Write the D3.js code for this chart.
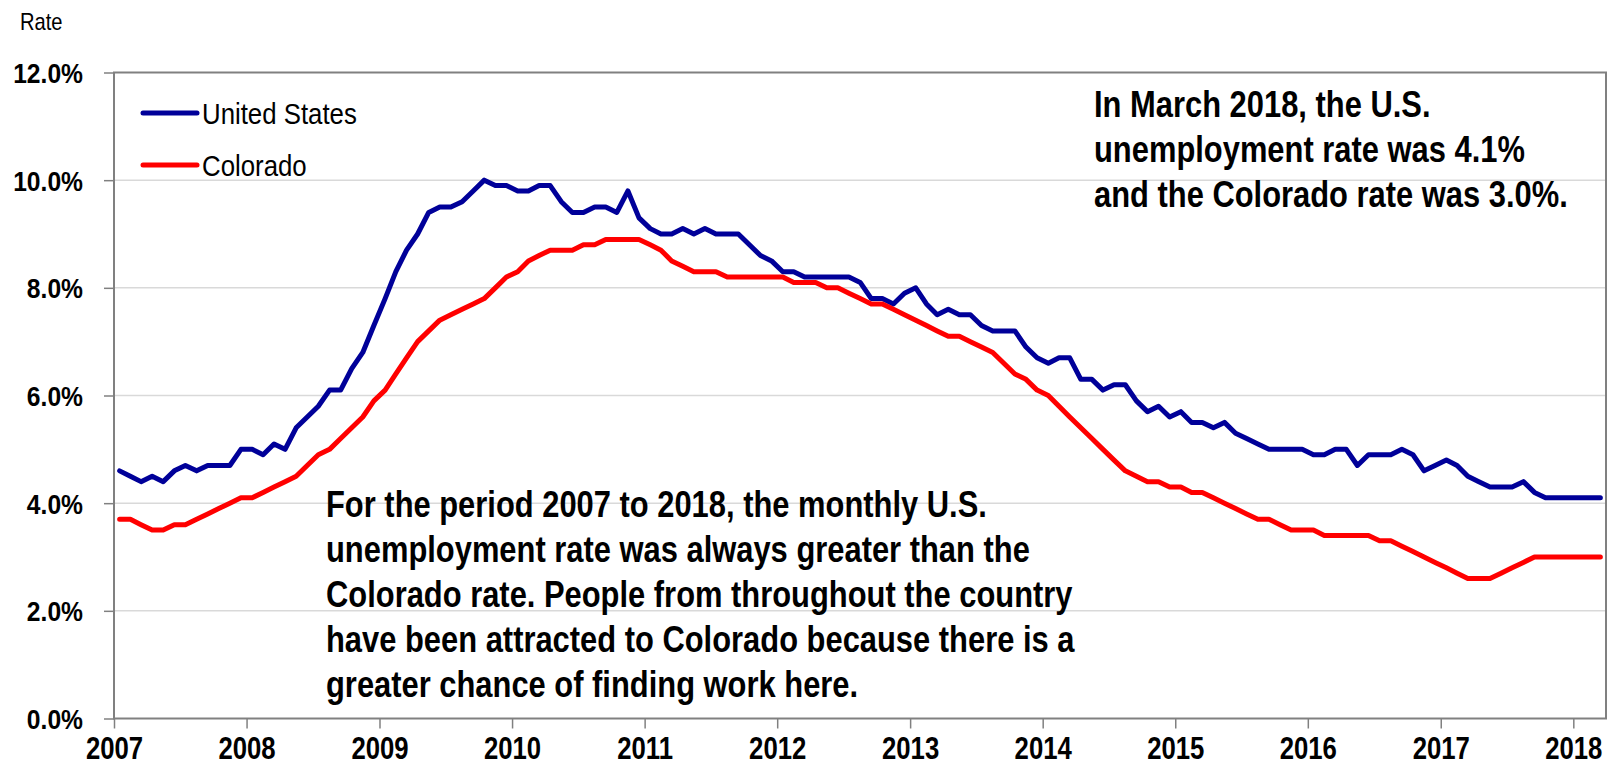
<!DOCTYPE html>
<html>
<head>
<meta charset="utf-8">
<script src="https://cdn.jsdelivr.net/npm/d3@7/dist/d3.min.js"></script>
<style>
  html, body { margin: 0; padding: 0; background: #fff; }
  svg { display: block; }
  text { font-family: "Liberation Sans", Arial, sans-serif; }
</style>
</head>
<body>
<div id="chart"></div>
<script>
// Monthly unemployment rate, Jan 2007 .. Mar 2018 (percent).
const years = [2007, 2008, 2009, 2010, 2011, 2012, 2013, 2014, 2015, 2016, 2017, 2018];

const usRate = [
  4.6, 4.5, 4.4, 4.5, 4.4, 4.6, 4.7, 4.6, 4.7, 4.7, 4.7, 5.0,
  5.0, 4.9, 5.1, 5.0, 5.4, 5.6, 5.8, 6.1, 6.1, 6.5, 6.8, 7.3,
  7.8, 8.3, 8.7, 9.0, 9.4, 9.5, 9.5, 9.6, 9.8, 10.0, 9.9, 9.9,
  9.8, 9.8, 9.9, 9.9, 9.6, 9.4, 9.4, 9.5, 9.5, 9.4, 9.8, 9.3,
  9.1, 9.0, 9.0, 9.1, 9.0, 9.1, 9.0, 9.0, 9.0, 8.8, 8.6, 8.5,
  8.3, 8.3, 8.2, 8.2, 8.2, 8.2, 8.2, 8.1, 7.8, 7.8, 7.7, 7.9,
  8.0, 7.7, 7.5, 7.6, 7.5, 7.5, 7.3, 7.2, 7.2, 7.2, 6.9, 6.7,
  6.6, 6.7, 6.7, 6.3, 6.3, 6.1, 6.2, 6.2, 5.9, 5.7, 5.8, 5.6,
  5.7, 5.5, 5.5, 5.4, 5.5, 5.3, 5.2, 5.1, 5.0, 5.0, 5.0, 5.0,
  4.9, 4.9, 5.0, 5.0, 4.7, 4.9, 4.9, 4.9, 5.0, 4.9, 4.6, 4.7,
  4.8, 4.7, 4.5, 4.4, 4.3, 4.3, 4.3, 4.4, 4.2, 4.1, 4.1, 4.1,
  4.1, 4.1, 4.1,
];

const coRate = [
  3.7, 3.7, 3.6, 3.5, 3.5, 3.6, 3.6, 3.7, 3.8, 3.9, 4.0, 4.1,
  4.1, 4.2, 4.3, 4.4, 4.5, 4.7, 4.9, 5.0, 5.2, 5.4, 5.6, 5.9,
  6.1, 6.4, 6.7, 7.0, 7.2, 7.4, 7.5, 7.6, 7.7, 7.8, 8.0, 8.2,
  8.3, 8.5, 8.6, 8.7, 8.7, 8.7, 8.8, 8.8, 8.9, 8.9, 8.9, 8.9,
  8.8, 8.7, 8.5, 8.4, 8.3, 8.3, 8.3, 8.2, 8.2, 8.2, 8.2, 8.2,
  8.2, 8.1, 8.1, 8.1, 8.0, 8.0, 7.9, 7.8, 7.7, 7.7, 7.6, 7.5,
  7.4, 7.3, 7.2, 7.1, 7.1, 7.0, 6.9, 6.8, 6.6, 6.4, 6.3, 6.1,
  6.0, 5.8, 5.6, 5.4, 5.2, 5.0, 4.8, 4.6, 4.5, 4.4, 4.4, 4.3,
  4.3, 4.2, 4.2, 4.1, 4.0, 3.9, 3.8, 3.7, 3.7, 3.6, 3.5, 3.5,
  3.5, 3.4, 3.4, 3.4, 3.4, 3.4, 3.3, 3.3, 3.2, 3.1, 3.0, 2.9,
  2.8, 2.7, 2.6, 2.6, 2.6, 2.7, 2.8, 2.9, 3.0, 3.0, 3.0, 3.0,
  3.0, 3.0, 3.0,
];

const yTicks = [0, 2, 4, 6, 8, 10, 12];

const series = [
  { name: 'United States', values: usRate, color: '#000099' },
  { name: 'Colorado', values: coRate, color: '#ff0000' },
];

const noteTop = [
  'In March 2018, the U.S.',
  'unemployment rate was 4.1%',
  'and the Colorado rate was 3.0%.',
];

const noteBottom = [
  'For the period 2007 to 2018, the monthly U.S.',
  'unemployment rate was always greater than the',
  'Colorado rate. People from throughout the country',
  'have been attracted to Colorado because there is a',
  'greater chance of finding work here.',
];

const W = 1618, H = 766;
const plot = { left: 114, right: 1606, top: 72.5, bottom: 718.5 };
const FRAME = '#808080';
const GRID = '#d9d9d9';

// The source uses a condensed face that isn't installed here, so
// text is squeezed horizontally around its anchor point instead.
const squeeze = (sel, sx, x0, y0) =>
  sel.attr('x', 0).attr('y', 0)
    .attr('transform', `translate(${x0},${y0}) scale(${sx},1)`);

const svg = d3.select('#chart').append('svg')
  .attr('width', W).attr('height', H);

// Scales: time axis runs to the start of April 2018 so the last
// (March) point sits half a month inside the right border.
const x = d3.scaleTime()
  .domain([new Date(2007, 0, 1), new Date(2018, 3, 1)])
  .range([plot.left, plot.right]);

const y = d3.scaleLinear()
  .domain([0, 12])
  .range([plot.bottom, plot.top]);

// Mid-month position for month index i.
const monthX = (i) => (x(new Date(2007, i, 1)) + x(new Date(2007, i + 1, 1))) / 2;

// Gridlines (skip top and bottom, the frame covers them).
svg.append('g').attr('class', 'grid')
  .selectAll('line')
  .data(yTicks.filter((t) => t > 0 && t < 12))
  .enter().append('line')
  .attr('x1', plot.left).attr('x2', plot.right)
  .attr('y1', (d) => y(d)).attr('y2', (d) => y(d))
  .attr('stroke', GRID).attr('stroke-width', 1.5);

// Y axis: outward ticks, bold percent labels.
const yAxis = d3.axisLeft(y)
  .tickValues(yTicks)
  .tickSize(10)
  .tickPadding(20)
  .tickFormat((d) => d3.format('.1f')(d) + '%');

const yG = svg.append('g')
  .attr('transform', `translate(${plot.left},0)`)
  .call(yAxis);
yG.select('.domain').remove();
yG.selectAll('.tick line').attr('stroke', FRAME).attr('stroke-width', 1.5);
squeeze(yG.selectAll('.tick text'), 0.88, -31, 0)
  .attr('font-size', 28)
  .attr('font-weight', 'bold')
  .attr('fill', '#000')
  .attr('dy', '0.36em');

// X axis: yearly ticks below the baseline.
const xAxis = d3.axisBottom(x)
  .tickValues(years.map((yr) => new Date(yr, 0, 1)))
  .tickSize(10)
  .tickPadding(8)
  .tickFormat(d3.timeFormat('%Y'));

const xG = svg.append('g')
  .attr('transform', `translate(0,${plot.bottom})`)
  .call(xAxis);
xG.select('.domain').remove();
xG.selectAll('.tick line').attr('stroke', FRAME).attr('stroke-width', 1.5);
squeeze(xG.selectAll('.tick text'), 0.83, 0, 18)
  .attr('font-size', 31)
  .attr('font-weight', 'bold')
  .attr('fill', '#000')
  .attr('dy', '0.71em');

// Plot frame.
svg.append('rect')
  .attr('x', plot.left).attr('y', plot.top)
  .attr('width', plot.right - plot.left)
  .attr('height', plot.bottom - plot.top)
  .attr('fill', 'none')
  .attr('stroke', FRAME).attr('stroke-width', 2);

// Series lines.
const line = d3.line()
  .x((d, i) => monthX(i))
  .y((d) => y(d));

svg.append('g').attr('class', 'series')
  .selectAll('path')
  .data(series)
  .enter().append('path')
  .attr('d', (d) => line(d.values))
  .attr('fill', 'none')
  .attr('stroke', (d) => d.color)
  .attr('stroke-width', 5)
  .attr('stroke-linejoin', 'round')
  .attr('stroke-linecap', 'round');

// Legend, top-left inside the plot.
const legendRows = svg.append('g').attr('class', 'legend')
  .selectAll('g')
  .data(series)
  .enter().append('g')
  .attr('transform', (d, i) => `translate(143,${113 + i * 52})`);
legendRows.append('line')
  .attr('x1', 0).attr('x2', 54)
  .attr('stroke', (d) => d.color)
  .attr('stroke-width', 5)
  .attr('stroke-linecap', 'round');
squeeze(legendRows.append('text'), 0.86, 59, 0)
  .attr('dy', '0.36em')
  .attr('font-size', 30)
  .attr('fill', '#000')
  .text((d) => d.name);

// Axis title.
squeeze(svg.append('text'), 0.84, 20, 30)
  .attr('font-size', 24)
  .attr('fill', '#000')
  .text('Rate');

// Annotations.
const drawNote = (lines, x0, y0) => {
  svg.append('g').selectAll('text')
    .data(lines)
    .enter().append('text')
    .call((sel) => sel.each(function (d, i) {
      squeeze(d3.select(this), 0.835, x0, y0 + i * 45);
    }))
    .attr('font-size', 37)
    .attr('font-weight', 'bold')
    .attr('fill', '#000')
    .text((d) => d);
};
drawNote(noteTop, 1094, 117);
drawNote(noteBottom, 326, 517);
</script>
</body>
</html>
